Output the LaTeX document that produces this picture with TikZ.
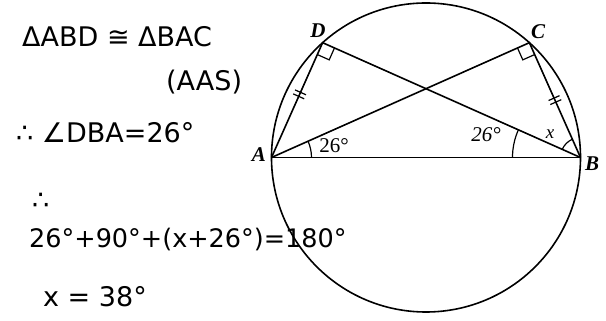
\documentclass[tikz,border=0pt]{standalone}
\usepackage{fontspec}
\setmainfont{Liberation Serif}
\newfontfamily\hand{DejaVu Sans}
\usetikzlibrary{calc}
\begin{document}
\begin{tikzpicture}[x=1pt,y=1pt,
  geo/.style={line width=1.6pt,black},
  lbl/.style={font=\fontsize{21}{21}\selectfont\bfseries\itshape},
  ang/.style={font=\fontsize{21}{21}\selectfont},
  hw/.style={font=\hand\fontsize{27}{27}\selectfont,anchor=west,inner sep=0pt},
  tick/.style={line width=1.2pt}]
\useasboundingbox (0,0) rectangle (606,321);
\fill[white] (0,0) rectangle (606,321);
\coordinate (O) at (426,163.5);
\coordinate (A) at ($(O)+(180:154.5)$);
\coordinate (B) at ($(O)+(0:154.5)$);
\coordinate (D) at ($(O)+(132:154.5)$);
\coordinate (C) at ($(O)+(48:154.5)$);
\draw[geo] (O) circle (154.5);
\draw[geo] (A) -- (B);
\draw[geo] (A) -- (D) -- (B);
\draw[geo] (A) -- (C) -- (B);
% right angles
\draw[line width=1.2pt] ($(D)!13pt!(A)$) -- ($($(D)!13pt!(A)$)+($(D)!13pt!(B)$)-(D)$) -- ($(D)!13pt!(B)$);
\draw[line width=1.2pt] ($(C)!13pt!(A)$) -- ($($(C)!13pt!(A)$)+($(C)!13pt!(B)$)-(C)$) -- ($(C)!13pt!(B)$);
% ticks
\coordinate (m1) at ($(A)!0.55!(D)$);
\coordinate (m2) at ($(B)!0.5!(C)$);
\foreach \m/\p/\q in {m1/A/D,m2/B/C}{
  \draw[tick] ($(\m)!2.2pt!(\q)!6pt!90:(\q)$) -- ($(\m)!2.2pt!(\q)!6pt!-90:(\q)$);
  \draw[tick] ($(\m)!-2.2pt!(\q)!6pt!90:(\q)$) -- ($(\m)!-2.2pt!(\q)!6pt!-90:(\q)$);
}
% angle arcs
\draw[line width=1.2pt] ($(A)+(0:40)$) arc[start angle=0,end angle=24,radius=40];
\draw[line width=1.2pt] ($(B)+(180:68)$) arc[start angle=180,end angle=156,radius=68];
\draw[line width=1.2pt] ($(B)+(156:20)$) arc[start angle=156,end angle=114,radius=20];
% labels
\node[lbl] (lA) at (259,166) {A};
\node[lbl] (lB) at (592,157) {B};
\node[lbl] (lD) at (318,290) {D};
\node[lbl] (lC) at (538,289) {C};
\node[ang] (a1) at (334,175) {26°};
\node[ang,font=\fontsize{21}{21}\selectfont\itshape] (a2) at (486,186) {26°};
\node[lbl,font=\fontsize{19}{19}\selectfont\itshape] (ax) at (550,187) {x};
% handwritten text
\node[hw] (t1) at (22,284) {ΔABD ≅ ΔBAC};
\node[hw] (t2) at (166,239) {(AAS)};
\node[hw] (t3) at (16,188) {∴ ∠DBA=26°};
\node[hw] (t4) at (32,120) {∴};
\node[hw,font=\hand\fontsize{25.5}{25.5}\selectfont] (t5) at (29,81) {26°+90°+(x+26°)=180°};
\node[hw] (t6) at (43,24) {x = 38°};
\end{tikzpicture}
\end{document}
